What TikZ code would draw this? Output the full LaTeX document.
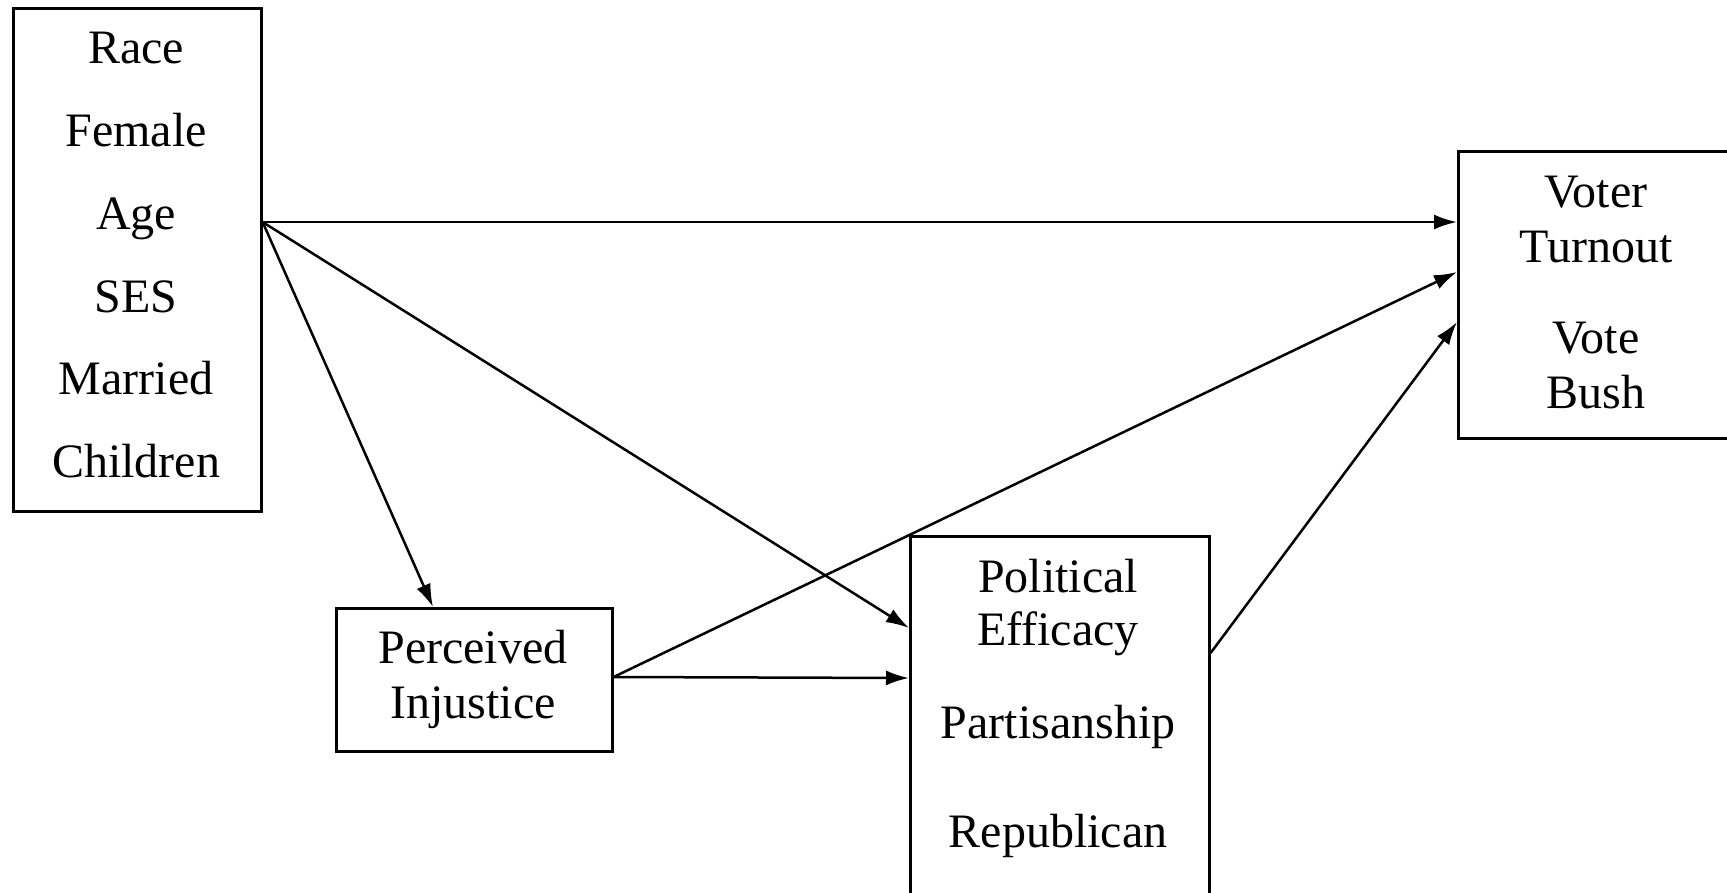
\documentclass[tikz,border=0pt]{standalone}
\usepackage{fontspec}
\setmainfont{Liberation Serif}
\usetikzlibrary{arrows.meta}
\begin{document}
\begin{tikzpicture}[x=1pt,y=-1pt,
  box/.style={draw,line width=2.6pt,inner sep=0pt,anchor=north west},
  lbl/.style={anchor=base,inner sep=0pt,font=\fontsize{48}{56}\selectfont},
  conn/.style={line width=2.5pt,-{Latex[length=23pt,width=15pt]}}]
\useasboundingbox (0,0) rectangle (1727,892);
% boxes
\node[box,minimum width=248pt,minimum height=503pt] (demo) at (12,7) {};
\node[box,minimum width=280pt,minimum height=287pt] (vote) at (1457,150) {};
\node[box,minimum width=276pt,minimum height=143pt] (inj) at (335,607) {};
\node[box,minimum width=299pt,minimum height=420pt] (pol) at (909,535) {};
% texts
\node[lbl] (t1) at (136,63) {Race};
\node[lbl] (t2) at (136,146) {Female};
\node[lbl] (t3) at (136,229) {Age};
\node[lbl] (t4) at (136,312) {SES};
\node[lbl] (t5) at (136,394) {Married};
\node[lbl] (t6) at (136,477) {Children};
\node[lbl] (v1) at (1596,207) {Voter};
\node[lbl] (v2) at (1596,262) {Turnout};
\node[lbl] (v3) at (1596,353) {Vote};
\node[lbl] (v4) at (1596,408) {Bush};
\node[lbl] (i1) at (473,663) {Perceived};
\node[lbl] (i2) at (473,718) {Injustice};
\node[lbl] (p1) at (1058,592) {Political};
\node[lbl] (p2) at (1058,645) {Efficacy};
\node[lbl] (p3) at (1058,738) {Partisanship};
\node[lbl] (p4) at (1058,847) {Republican};
% connectors
\coordinate (dsrc) at ([yshift=-215pt]demo.north east);
\coordinate (isrc) at ([yshift=-70pt]inj.north east);
\draw[conn] (dsrc) -- ([yshift=-72pt]vote.north west);
\draw[conn] (dsrc) -- ([xshift=98pt]inj.north west);
\draw[conn] (dsrc) -- ([yshift=-93pt]pol.north west);
\draw[conn] (isrc) -- ([yshift=-143pt]pol.north west);
\draw[conn] (isrc) -- ([yshift=-122pt]vote.north west);
\draw[conn] ([yshift=-118pt]pol.north east) -- ([yshift=-172pt]vote.north west);
\end{tikzpicture}
\end{document}
